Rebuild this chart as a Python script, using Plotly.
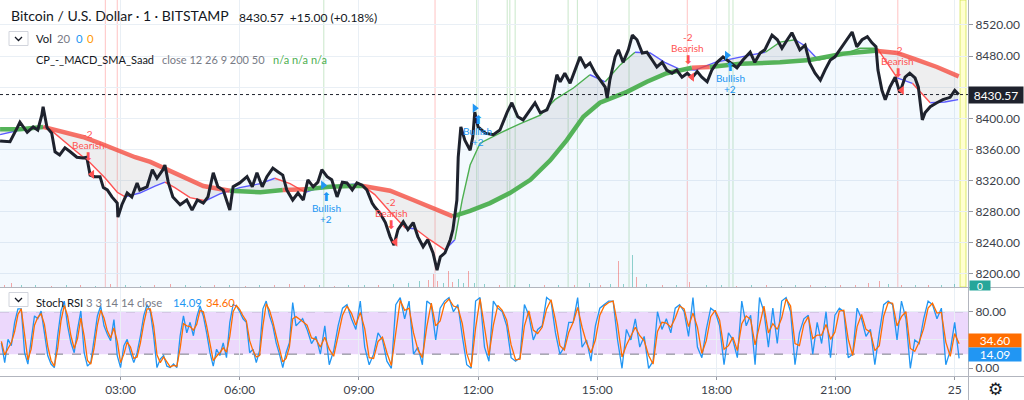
import plotly.graph_objects as go
import pandas as pd

# ---------------- data ----------------
session_start = "2020-01-24 00:00"
symbol_title = "Bitcoin / U.S. Dollar · 1 · BITSTAMP"
last_price = 8430.57
price_change = 15.00
price_change_pct = 0.18
last_volume = 0
last_k = 14.09
last_d = 34.60

# close price, minutes after session start
price_minutes = [-2, 13, 24, 28, 39, 48, 55, 61, 63, 69,
                 76, 81, 88, 96, 104, 114, 123, 129, 134, 141,
                 149, 154, 160, 167, 175, 176, 182, 190, 197, 205,
                 209, 220, 228, 235, 244, 247, 252, 259, 270, 280,
                 288, 296, 305, 312, 320, 327, 335, 345, 350, 360,
                 371, 379, 386, 394, 401, 410, 418, 425, 431, 440,
                 448, 456, 463, 471, 478, 484, 492, 499, 507, 515,
                 522, 530, 537, 545, 552, 560, 564, 572, 580, 587,
                 593, 599, 607, 614, 622, 629, 637, 644, 652, 658,
                 663, 670, 678, 682, 688, 690, 694, 700, 708, 712,
                 715, 720, 731, 743, 753, 764, 771, 780, 788, 799,
                 806, 814, 824, 832, 839, 844, 851, 859, 866, 874,
                 882, 889, 897, 904, 912, 915, 919, 927, 932, 939,
                 947, 953, 960, 968, 975, 983, 990, 998, 1005, 1013,
                 1020, 1028, 1036, 1043, 1051, 1058, 1066, 1073, 1081, 1090,
                 1101, 1111, 1120, 1131, 1138, 1146, 1153, 1164, 1172, 1179,
                 1187, 1194, 1199, 1206, 1214, 1221, 1229, 1237, 1244, 1252,
                 1259, 1270, 1277, 1285, 1292, 1300, 1308, 1315, 1321, 1324,
                 1330, 1335, 1342, 1350, 1357, 1365, 1372, 1380, 1385, 1391,
                 1395, 1403, 1413, 1422, 1433, 1440, 1446]
price_close = [8371, 8370, 8388, 8395, 8382, 8389, 8385, 8404, 8415, 8388,
               8381, 8357, 8353, 8362, 8357, 8350, 8349, 8350, 8327, 8325,
               8325, 8311, 8308, 8299, 8291, 8273, 8289, 8304, 8299, 8317,
               8308, 8312, 8334, 8323, 8334, 8340, 8318, 8299, 8289, 8295,
               8282, 8295, 8291, 8299, 8330, 8312, 8308, 8282, 8312, 8317,
               8325, 8312, 8330, 8312, 8325, 8336, 8331, 8327, 8308, 8295,
               8304, 8295, 8321, 8312, 8318, 8334, 8325, 8321, 8299, 8318,
               8317, 8308, 8317, 8314, 8308, 8291, 8286, 8278, 8266, 8248,
               8237, 8257, 8267, 8257, 8266, 8248, 8235, 8244, 8227, 8205,
               8222, 8227, 8244, 8257, 8295, 8350, 8389, 8372, 8359, 8376,
               8408, 8389, 8381, 8379, 8385, 8408, 8420, 8402, 8398, 8411,
               8420, 8407, 8411, 8427, 8456, 8447, 8458, 8445, 8462, 8479,
               8466, 8471, 8458, 8449, 8440, 8426, 8449, 8479, 8488, 8472,
               8488, 8507, 8501, 8484, 8485, 8475, 8466, 8472, 8462, 8458,
               8462, 8453, 8458, 8452, 8460, 8453, 8447, 8462, 8472, 8479,
               8471, 8465, 8475, 8485, 8472, 8484, 8488, 8507, 8501, 8490,
               8501, 8510, 8501, 8488, 8494, 8471, 8458, 8449, 8462, 8475,
               8479, 8492, 8501, 8511, 8492, 8501, 8505, 8497, 8492, 8462,
               8436, 8424, 8440, 8453, 8433, 8453, 8458, 8452, 8440, 8398,
               8407, 8415, 8420, 8424, 8427, 8436, 8430.57]

# slow SMA (200) and its trend (1 bullish, -1 bearish)
slow_ma_minutes = [-2, 28, 63, 88, 123, 149, 175, 202, 225, 250, 280, 305, 345, 391,
                   425, 462, 496, 527, 546, 564, 587, 622, 652, 682, 708, 738, 768,
                   799, 829, 854, 879, 904, 945, 975, 1005, 1043, 1070, 1116, 1176,
                   1221, 1271, 1320, 1353, 1383, 1413, 1446]
slow_ma_values = [8386, 8386, 8389, 8384, 8376, 8368, 8359, 8350, 8344, 8334, 8323, 8313,
                  8307, 8305, 8308, 8309, 8312, 8313, 8313, 8310, 8307, 8295, 8285, 8274,
                  8281, 8291, 8304, 8321, 8346, 8372, 8402, 8420, 8434, 8447, 8458, 8465,
                  8466, 8470, 8472, 8475, 8483, 8487, 8484, 8475, 8466, 8454]
slow_ma_trend = [1, 1, -1, -1, -1, -1, -1, -1, -1, -1, -1, -1, 1, 1, -1, 1, 1, 1, -1, -1,
                 -1, -1, -1, 1, 1, 1, 1, 1, 1, 1, 1, 1, 1, 1, 1, -1, 1, 1, 1, 1, 1, -1,
                 -1, -1, -1, -1]

# fast SMA (50) and its state
fast_ma_minutes = [-2, 28, 58, 69, 88, 111, 134, 157, 175, 187, 209, 232, 247, 262, 285,
                   308, 330, 360, 391, 413, 436, 459, 481, 512, 542, 564, 587, 610, 625,
                   647, 670, 685, 696, 708, 723, 753, 783, 814, 836, 864, 889, 912, 935,
                   957, 980, 1002, 1025, 1048, 1078, 1123, 1154, 1176, 1199, 1214, 1234,
                   1267, 1297, 1323, 1353, 1376, 1403, 1425, 1445]
fast_ma_values = [8379, 8385, 8388, 8389, 8375, 8359, 8343, 8323, 8305, 8299, 8304, 8313,
                  8318, 8311, 8298, 8294, 8303, 8311, 8316, 8323, 8316, 8305, 8311, 8314,
                  8316, 8302, 8280, 8259, 8258, 8244, 8231, 8244, 8295, 8340, 8368, 8381,
                  8393, 8404, 8424, 8439, 8456, 8447, 8469, 8485, 8484, 8472, 8463, 8462,
                  8472, 8480, 8485, 8498, 8501, 8493, 8475, 8481, 8490, 8490, 8452, 8445,
                  8420, 8421, 8424]
fast_ma_state = ["up", "up", "up", "down", "down", "down", "down", "down", "down", "up",
                 "up", "up", "down", "down", "down", "up", "up", "up", "up", "down",
                 "down", "up", "up", "up", "down", "down", "down", "up", "down", "down",
                 "up", "cross", "cross", "cross", "cross", "cross", "cross", "cross",
                 "cross", "cross", "up", "cross", "cross", "up", "up", "up", "up", "up",
                 "up", "up", "cross", "cross", "up", "up", "cross", "cross", "cross",
                 "down", "up", "down", "up", "up", "up"]

# signals (price where the marker sits)
bear_signal_minutes = [137, 595, 1043, 1360]
bear_signal_prices = [8328, 8241, 8453, 8436]
bull_signal_minutes = [486, 715, 1096]
bull_signal_prices = [8314, 8413, 8481]
bear_cross_minutes = [157, 175, 655, 1036, 1354]
bull_cross_minutes = [487, 718, 764, 768, 776, 856, 870, 948, 1099, 1105]
live_bar_minutes = [1448, 1457]

# volume
volume_minutes = [5, 16, 30, 52, 75, 98, 120, 142, 165, 188,
                  210, 232, 255, 278, 300, 322, 345, 368, 390, 412,
                  435, 458, 480, 503, 525, 548, 570, 592, 615, 632,
                  645, 652, 658, 668, 675, 681, 690, 698, 706, 715,
                  730, 752, 775, 798, 820, 842, 865, 889, 905, 920,
                  932, 940, 953, 959, 975, 998, 1020, 1040, 1065, 1088,
                  1110, 1133, 1155, 1178, 1200, 1222, 1245, 1268, 1290, 1309,
                  1327, 1340, 1360, 1380, 1400, 1420, 1440]
volume_values = [6, 14, 5, 7, 4, 6, 5, 4, 8, 5,
                 4, 6, 10, 5, 4, 6, 5, 4, 6, 5,
                 8, 7, 5, 4, 6, 5, 7, 9, 12, 18,
                 22, 40, 20, 14, 50, 15, 25, 12, 50, 14,
                 8, 6, 5, 9, 6, 5, 7, 12, 6, 8,
                 80, 10, 100, 30, 8, 6, 5, 15, 6, 5,
                 4, 6, 5, 4, 5, 6, 4, 5, 7, 12,
                 20, 8, 6, 7, 5, 6, 8]
volume_dir = [-1, -1, 1, 1, -1, 1, -1, 1, -1, 1,
              1, -1, -1, 1, 1, -1, 1, -1, 1, -1,
              -1, -1, 1, -1, 1, 1, -1, 1, 1, 1,
              -1, -1, -1, 1, -1, -1, 1, 1, -1, 1,
              1, -1, 1, 1, -1, 1, -1, 1, -1, 1,
              -1, 1, 1, -1, 1, -1, 1, -1, 1, 1,
              -1, 1, -1, 1, 1, -1, 1, -1, -1, -1,
              -1, 1, -1, 1, -1, 1, 1]

# Stoch RSI %K and %D
stoch_minutes = list(range(0, 450, 5)) + [round(455 + 6.7 * i, 1) for i in range(149)]
stoch_k = [36, 8, 41, 32, 65, 84, 84, 22, 6, 41,
           74, 70, 81, 50, 18, 6, 1, 46, 81, 95,
           60, 36, 22, 55, 81, 22, 3, 8, 41, 74,
           88, 60, 48, 39, 69, 18, 1, 32, 41, 22,
           8, 22, 46, 74, 90, 80, 46, 1, 13, 18,
           3, 1, 6, 1, 46, 74, 50, 65, 46, 72,
           88, 74, 50, 22, 3, 27, 18, 36, 15, 65,
           90, 88, 80, 70, 65, 22, 27, 8, 25, 84,
           95, 74, 60, 36, 20, 1, 22, 36, 93, 60,
           70, 55, 35, 45, 20, 60, 5, 25, 60, 85,
           90, 70, 55, 95, 30, 5, 20, 50, 40, 10,
           0, 90, 100, 70, 95, 20, 30, 5, 95, 90,
           40, 85, 95, 100, 80, 90, 45, 5, 0, 95,
           100, 30, 10, 95, 85, 80, 60, 15, 10, 15,
           90, 75, 40, 55, 60, 100, 95, 50, 20, 30,
           65, 65, 100, 30, 40, 10, 60, 85, 90, 95,
           95, 40, 0, 55, 40, 70, 30, 45, 0, 10,
           80, 55, 70, 50, 85, 90, 80, 45, 100, 30,
           15, 55, 85, 80, 60, 5, 50, 40, 15, 95,
           60, 75, 5, 100, 80, 30, 85, 35, 95, 100,
           80, 5, 50, 70, 75, 20, 65, 35, 80, 15,
           75, 85, 80, 15, 20, 85, 70, 45, 55, 5,
           50, 90, 95, 90, 40, 95, 70, 0, 40, 35,
           70, 95, 90, 70, 85, 5, 25, 65, 14.09]
stoch_d = [38, 19, 28, 36, 52, 76, 84, 47, 12, 27,
           61, 72, 77, 62, 31, 11, 3, 28, 67, 89,
           74, 46, 28, 42, 71, 46, 11, 6, 28, 61,
           82, 71, 53, 43, 57, 38, 8, 20, 37, 30,
           14, 16, 36, 63, 84, 84, 60, 19, 8, 16,
           9, 2, 4, 3, 28, 63, 60, 59, 54, 62,
           82, 80, 60, 33, 11, 17, 22, 29, 23, 45,
           80, 89, 83, 74, 67, 39, 25, 16, 18, 60,
           91, 82, 66, 46, 26, 9, 14, 30, 70, 73,
           66, 61, 43, 41, 30, 44, 27, 17, 46, 75,
           88, 78, 61, 79, 56, 15, 14, 38, 44, 22,
           4, 54, 96, 82, 85, 50, 26, 15, 59, 92,
           60, 67, 91, 98, 88, 86, 63, 21, 2, 57,
           98, 58, 18, 61, 89, 82, 68, 33, 12, 13,
           60, 81, 54, 49, 58, 84, 97, 68, 32, 26,
           51, 65, 86, 58, 36, 22, 40, 75, 88, 93,
           95, 62, 16, 33, 46, 58, 46, 39, 18, 6,
           52, 65, 64, 58, 71, 88, 84, 59, 78, 58,
           21, 39, 73, 82, 68, 27, 32, 44, 25, 63,
           74, 69, 33, 62, 88, 50, 63, 55, 71, 98,
           88, 35, 32, 62, 73, 42, 47, 47, 62, 41,
           51, 81, 82, 41, 18, 59, 76, 55, 51, 25,
           32, 74, 93, 92, 60, 73, 80, 28, 24, 37,
           56, 85, 92, 78, 79, 37, 17, 49, 34.60]

price_ticks = [8200, 8240, 8280, 8320, 8360, 8400, 8440, 8480, 8520]
stoch_ticks = [0, 40, 80]
time_tick_minutes = [180, 360, 540, 720, 900, 1080, 1260, 1440]
time_tick_labels = ["03:00", "06:00", "09:00", "12:00", "15:00", "18:00", "21:00", "25"]

# ---------------- helpers ----------------
BASE = pd.Timestamp(session_start)


def ts(m):
    return (BASE + pd.Timedelta(minutes=float(m))).strftime("%Y-%m-%d %H:%M:%S")


def tlist(ms):
    return [ts(m) for m in ms]


W_PLOT, H_PLOT = 968.0, 376.0
MAIN_BOTTOM_PX, STOCH_TOP_PX = 287.0, 288.0


def px(x):
    return x / W_PLOT


def py(y):
    return 1 - y / H_PLOT


def runs(xs, ys, states):
    out, s, n = [], 0, len(xs)
    for i in range(1, n):
        if i == n - 1 or states[i] != states[s]:
            out.append((states[s], xs[s:i + 1], ys[s:i + 1]))
            s = i
    return out


FONT = "Lato, 'Open Sans', sans-serif"
GRID = "#e9eff5"
AXIS_TXT = "#3b3f4a"
RED = "#ff5252"
BLUE = "#2196f3"
ORANGE = "#ff6d00"

fig = go.Figure()

price_t = tlist(price_minutes)
slow_t = tlist(slow_ma_minutes)
fast_t = tlist(fast_ma_minutes)

# light blue area under price
fig.add_trace(go.Scatter(x=price_t, y=price_close, mode="lines", line=dict(width=0, color="rgba(0,0,0,0)"),
                         fill="tozeroy", fillcolor="rgba(33,150,243,0.055)", hoverinfo="skip"))
# grey cloud between fast and slow MA
fig.add_trace(go.Scatter(x=slow_t, y=slow_ma_values, mode="lines", line=dict(width=0, color="rgba(0,0,0,0)"),
                         hoverinfo="skip"))
fig.add_trace(go.Scatter(x=fast_t, y=fast_ma_values, mode="lines", line=dict(width=0, color="rgba(0,0,0,0)"),
                         fill="tonexty", fillcolor="rgba(120,123,134,0.13)", hoverinfo="skip"))

fast_colors = {"up": "#5a5aff", "down": "#ff5252", "cross": "#4caf50"}
for state, xs, ys in runs(fast_t, fast_ma_values, fast_ma_state):
    fig.add_trace(go.Scatter(x=xs, y=ys, mode="lines", line=dict(width=1.4, color=fast_colors[state]),
                             hoverinfo="skip"))

slow_colors = {1: "rgba(76,175,80,0.95)", -1: "rgba(244,67,54,0.75)"}
for state, xs, ys in runs(slow_t, slow_ma_values, slow_ma_trend):
    fig.add_trace(go.Scatter(x=xs, y=ys, mode="lines", line=dict(width=4.5, color=slow_colors[state]),
                             hoverinfo="skip"))

# price line
fig.add_trace(go.Scatter(x=price_t, y=price_close, mode="lines", line=dict(width=3, color="#1e222d"),
                         hoverinfo="skip"))

# signal triangles
fig.add_trace(go.Scatter(x=tlist(bear_signal_minutes), y=bear_signal_prices, mode="markers",
                         marker=dict(symbol="triangle-left", size=8, color=RED), hoverinfo="skip"))
fig.add_trace(go.Scatter(x=tlist(bull_signal_minutes), y=bull_signal_prices, mode="markers",
                         marker=dict(symbol="triangle-right", size=8, color=BLUE), hoverinfo="skip"))

# volume
fig.add_trace(go.Bar(x=tlist(volume_minutes), y=volume_values, yaxis="y3", width=90000,
                     marker=dict(color=["rgba(38,166,154,0.5)" if d > 0 else "rgba(239,83,80,0.5)"
                                        for d in volume_dir], line=dict(width=0)),
                     hoverinfo="skip"))

# stoch RSI
stoch_t = tlist(stoch_minutes)
fig.add_trace(go.Scatter(x=stoch_t, y=stoch_k, mode="lines", line=dict(width=1.3, color=BLUE),
                         xaxis="x2", yaxis="y2", hoverinfo="skip"))
fig.add_trace(go.Scatter(x=stoch_t, y=stoch_d, mode="lines", line=dict(width=1.3, color=ORANGE),
                         xaxis="x2", yaxis="y2", hoverinfo="skip"))

# ---------------- shapes ----------------
shapes = []
for m in bear_cross_minutes:
    shapes.append(dict(type="line", xref="x", yref="y domain", x0=ts(m), x1=ts(m), y0=0, y1=1,
                       line=dict(color="rgba(255,82,82,0.35)", width=1), layer="below"))
for m in bull_cross_minutes:
    shapes.append(dict(type="line", xref="x", yref="y domain", x0=ts(m), x1=ts(m), y0=0, y1=1,
                       line=dict(color="rgba(76,175,80,0.3)", width=1), layer="below"))
shapes.append(dict(type="rect", xref="x", yref="y domain", x0=ts(live_bar_minutes[0]), x1=ts(live_bar_minutes[1]),
                   y0=0, y1=1, fillcolor="rgba(255,255,120,0.35)",
                   line=dict(color="rgba(205,225,60,0.7)", width=1), layer="below"))
shapes.append(dict(type="line", xref="x domain", yref="y", x0=0, x1=1, y0=last_price, y1=last_price,
                   line=dict(color="#1e222d", width=1, dash="dot")))
# stoch band and levels
shapes.append(dict(type="rect", xref="x2 domain", yref="y2", x0=0, x1=1, y0=20, y1=80,
                   fillcolor="rgba(160,60,240,0.2)", line=dict(width=0), layer="below"))
for lv in (20, 80):
    shapes.append(dict(type="line", xref="x2 domain", yref="y2", x0=0, x1=1, y0=lv, y1=lv,
                       line=dict(color="#787b86", width=1, dash="dash"), layer="below"))
# pane separators / borders
full_w = 1024 / W_PLOT
shapes.append(dict(type="line", xref="paper", yref="paper", x0=0, x1=full_w, y0=py(287.5), y1=py(287.5),
                   line=dict(color="#b2b5be", width=1.2)))
shapes.append(dict(type="line", xref="paper", yref="paper", x0=0, x1=full_w, y0=py(376.5), y1=py(376.5),
                   line=dict(color="#b2b5be", width=1)))
shapes.append(dict(type="line", xref="paper", yref="paper", x0=px(968.5), x1=px(968.5), y0=py(400), y1=1,
                   line=dict(color="#b2b5be", width=1)))
# collapse buttons
for top in (31.5, 292.5):
    shapes.append(dict(type="rect", xref="paper", yref="paper", x0=px(9), x1=px(28), y0=py(top + 14), y1=py(top),
                       line=dict(color="#d1d4dc", width=1), fillcolor="white"))
    c = top + 5.5
    shapes.append(dict(type="path", xref="paper", yref="paper",
                       path=f"M {px(15)} {py(c)} L {px(18.5)} {py(c + 3.5)} L {px(22)} {py(c)}",
                       line=dict(color="#131722", width=1.3)))

# ---------------- annotations ----------------
ann = []


def text(t, x, y, size=11.3, color="#131722", family=FONT):
    ann.append(dict(text=t, xref="paper", yref="paper", x=px(x), y=py(y), xanchor="left", yanchor="middle",
                    showarrow=False, font=dict(size=size, color=color, family=family)))


text(symbol_title, 9, 16, 14, "#131722")
text(f"{last_price:.2f}  {price_change:+.2f} ({price_change_pct:+.2f}%)", 237, 17, 12, "#131722")
text("Vol", 34, 39)
text("20", 55, 39, color="#787b86")
text(f"{last_volume}", 74, 39, color=BLUE)
text(f"{last_volume}", 85, 39, color="#ff9800")
text("CP_-_MACD_SMA_Saad", 34, 60, 11)
text("close 12 26 9 200 50", 160, 60, 11, color="#787b86")
text("n/a n/a n/a", 271, 60, 11, color="#4caf50")
text("Stoch RSI", 34, 302)
text("3 3 14 14 close", 84, 302, color="#787b86")
text(f"{last_k:.2f}", 171, 302, color=BLUE)
text(f"{last_d:.2f}", 204, 302, color=ORANGE)
text("⚙", 986, 389, 17, "#131722", "DejaVu Sans")

for m, p in zip(bear_signal_minutes, bear_signal_prices):
    for t, ys, sz, fam in (("⬇", 17, 12, "DejaVu Sans"), ("Bearish", 29, 10, FONT), ("-2", 40, 10, FONT)):
        ann.append(dict(text=t, x=ts(m), y=p, xref="x", yref="y", showarrow=False, xshift=-4, yshift=ys,
                        font=dict(size=sz, color=RED, family=fam)))
for m, p in zip(bull_signal_minutes, bull_signal_prices):
    for t, ys, sz, fam in (("⬆", -12, 12, "DejaVu Sans"), ("Bullish", -23, 10, FONT), ("+2", -34, 10, FONT)):
        ann.append(dict(text=t, x=ts(m), y=p, xref="x", yref="y", showarrow=False, xshift=3, yshift=ys,
                        font=dict(size=sz, color=BLUE, family=fam)))

# axis value labels
ann.append(dict(text=f"{last_price:.2f}", xref="paper", x=1.0, xanchor="left", yref="y", y=last_price,
                yanchor="middle", showarrow=False, bgcolor="#1e222d", width=52, height=14, borderpad=1,
                font=dict(size=12, color="white", family=FONT)))
ann.append(dict(text=f"{last_d:.2f}", xref="paper", x=1.0, xanchor="left", yref="y2", y=last_d,
                yanchor="middle", yshift=3, showarrow=False, bgcolor=ORANGE, width=52, height=13, borderpad=0,
                font=dict(size=12, color="white", family=FONT)))
ann.append(dict(text=f"{last_k:.2f}", xref="paper", x=1.0, xanchor="left", yref="y2", y=last_k,
                yanchor="middle", yshift=4, showarrow=False, bgcolor=BLUE, width=52, height=13, borderpad=0,
                font=dict(size=12, color="white", family=FONT)))
ann.append(dict(text=f"{last_volume}", xref="paper", x=px(969), xanchor="left", yref="paper", y=py(285.5),
                yanchor="middle", showarrow=False, bgcolor="#26a69a", width=20, height=9, borderpad=0,
                font=dict(size=10, color="white", family=FONT)))

x_range = [ts(-2.1), ts(1460)]
tick_ts = tlist(time_tick_minutes)
price_ticktext = ["" if abs(v - last_price) < 15 else f"{v:.2f}" for v in price_ticks]
stoch_ticktext = ["" if abs(v - last_d) < 8 else f"{v:.2f}" for v in stoch_ticks]

fig.update_layout(
    width=1024, height=400, margin=dict(l=0, r=56, t=0, b=24),
    paper_bgcolor="white", plot_bgcolor="white", showlegend=False, bargap=0,
    font=dict(family=FONT, size=12, color=AXIS_TXT),
    xaxis=dict(domain=[0, 1], anchor="y", type="date", range=x_range, tickvals=tick_ts,
               showticklabels=False, showgrid=True, gridcolor=GRID, zeroline=False, showline=False, ticks=""),
    xaxis2=dict(domain=[0, 1], anchor="y2", type="date", range=x_range, matches="x", tickvals=tick_ts,
                ticktext=time_tick_labels, showgrid=True, gridcolor=GRID, zeroline=False, showline=False,
                ticks="outside", ticklen=3, tickcolor="#9598a1", tickfont=dict(size=12, color=AXIS_TXT)),
    yaxis=dict(domain=[py(MAIN_BOTTOM_PX), 1], anchor="x", side="right", range=[8183.2, 8552.1],
               tickvals=price_ticks, ticktext=price_ticktext,
               showgrid=True, gridcolor=GRID, zeroline=False, ticks="outside", ticklen=4,
               tickcolor="#9598a1", tickfont=dict(size=12, color=AXIS_TXT)),
    yaxis2=dict(domain=[0, py(STOCH_TOP_PX)], anchor="x2", side="right", range=[-10.9, 113.5],
                tickvals=stoch_ticks, ticktext=stoch_ticktext,
                showgrid=True, gridcolor=GRID, zeroline=False, ticks="outside", ticklen=4,
                tickcolor="#9598a1", tickfont=dict(size=12, color=AXIS_TXT)),
    yaxis3=dict(overlaying="y", anchor="x", range=[0, 900], visible=False),
    shapes=shapes, annotations=ann,
)

fig.write_html("out.html")
